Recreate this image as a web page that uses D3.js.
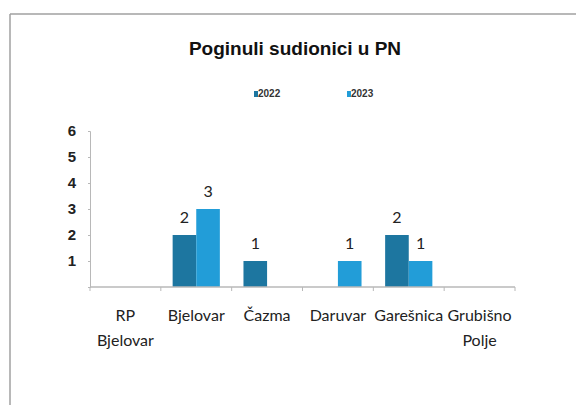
<!DOCTYPE html>
<html>
<head>
<meta charset="utf-8">
<script src="https://cdn.jsdelivr.net/npm/d3@7"></script>
<style>
  body { margin: 0; background: #fff; }
  svg { display: block; }
</style>
</head>
<body>
<svg id="chart" width="576" height="405"></svg>
<script>
// data
let categories = ["RP Bjelovar", "Bjelovar", "Čazma", "Daruvar", "Garešnica", "Grubišno Polje"];
let series = ["2022", "2023"];
let values2022 = [0, 2, 1, 0, 2, 0];
let values2023 = [0, 3, 0, 1, 1, 0];
let yTicks = [0, 1, 2, 3, 4, 5, 6];
let colors = ["#1d76a0", "#229dd8"];

let svg = d3.select("#chart");

// frame (only top + left edge visible in the scan)
svg.append("line").attr("x1", 10).attr("x2", 576).attr("y1", 14).attr("y2", 14)
  .attr("stroke", "#a0a0a0").attr("stroke-width", 1.5);
svg.append("line").attr("x1", 10).attr("x2", 10).attr("y1", 14).attr("y2", 405)
  .attr("stroke", "#a0a0a0").attr("stroke-width", 1.5);

svg.append("text")
  .attr("x", 295).attr("y", 55)
  .attr("text-anchor", "middle")
  .style("font-family", "'Liberation Sans Narrow', 'Liberation Sans', sans-serif")
  .style("font-weight", "bold")
  .style("font-size", "19px")
  .attr("fill", "#111")
  .text("Poginuli sudionici u PN");

// legend
let legend = svg.append("g");
let legendX = [254, 347];
series.forEach((s, i) => {
  legend.append("rect").attr("x", legendX[i]).attr("y", 91).attr("width", 4).attr("height", 6)
    .attr("fill", colors[i]);
  legend.append("text").attr("x", legendX[i] + 4).attr("y", 97)
    .style("font-family", "'Liberation Sans Narrow', sans-serif")
    .style("font-size", "10px")
    .style("font-weight", "bold")
    .attr("fill", "#333")
    .text(s);
});

let x0 = d3.scaleBand().domain(categories).range([90, 515]);
let x1 = d3.scaleBand().domain(series).range([0, x0.bandwidth()]).paddingOuter(0.5);
let y = d3.scaleLinear().domain([0, 6]).range([287, 131]);

// y axis
let yAxis = svg.append("g").attr("transform", "translate(90,0)")
  .call(d3.axisLeft(y).tickValues(yTicks).tickSize(2).tickPadding(12)
    .tickFormat(d => d === 0 ? "" : d));
yAxis.select(".domain").attr("stroke", "#b8b8b8");
yAxis.selectAll(".tick line").attr("stroke", "#b8b8b8");
yAxis.selectAll("text")
  .style("font-family", "'Liberation Sans', sans-serif")
  .style("font-size", "15px")
  .style("font-weight", "bold")
  .attr("fill", "#222");

// bars
let rows = categories.map((c, i) => ({cat: c, vals: [values2022[i], values2023[i]]}));
let groups = svg.append("g").selectAll("g")
  .data(rows)
  .enter()
  .append("g")
  .attr("transform", d => "translate(" + x0(d.cat) + ",0)");

groups.selectAll("rect")
  .data(d => d.vals.map((v, i) => ({s: series[i], v: v, i: i})))
  .enter()
  .append("rect")
  .attr("x", d => x1(d.s))
  .attr("y", d => y(d.v))
  .attr("width", x1.bandwidth())
  .attr("height", d => y(0) - y(d.v))
  .attr("fill", d => colors[d.i]);

groups.selectAll("text")
  .data(d => d.vals.map((v, i) => ({s: series[i], v: v})).filter(d => d.v > 0))
  .enter()
  .append("text")
  .attr("x", d => x1(d.s) + x1.bandwidth() / 2)
  .attr("y", d => y(d.v) - 12)
  .attr("text-anchor", "middle")
  .style("font-family", "Lato, sans-serif")
  .style("font-size", "16px")
  .attr("fill", "#222")
  .text(d => d.v);

// x axis
let xAxis = svg.append("g").attr("transform", "translate(0,287)");
xAxis.append("line").attr("x1", 90).attr("x2", 515).attr("y1", 0).attr("y2", 0)
  .attr("stroke", "#b8b8b8").attr("stroke-width", 1.5);
xAxis.selectAll("line.tk")
  .data(categories.concat(["end"]))
  .enter()
  .append("line")
  .attr("class", "tk")
  .attr("x1", (d, i) => i < categories.length ? x0(d) : 515)
  .attr("x2", (d, i) => i < categories.length ? x0(d) : 515)
  .attr("y1", 0).attr("y2", 4)
  .attr("stroke", "#b8b8b8");

let lines = {"RP Bjelovar": ["RP", "Bjelovar"], "Grubišno Polje": ["Grubišno", "Polje"]};
let labels = xAxis.selectAll("text.cat")
  .data(categories)
  .enter()
  .append("text")
  .attr("class", "cat")
  .attr("x", d => x0(d) + x0.bandwidth() / 2)
  .attr("y", 34)
  .attr("text-anchor", "middle")
  .style("font-family", "Lato, sans-serif")
  .style("font-size", "16px")
  .attr("fill", "#222");
labels.each(function(d) {
  let parts = lines[d] || [d];
  let t = d3.select(this);
  parts.forEach((p, k) => {
    t.append("tspan").attr("x", x0(d) + x0.bandwidth() / 2).attr("dy", k === 0 ? 0 : 25).text(p);
  });
});
</script>
</body>
</html>
